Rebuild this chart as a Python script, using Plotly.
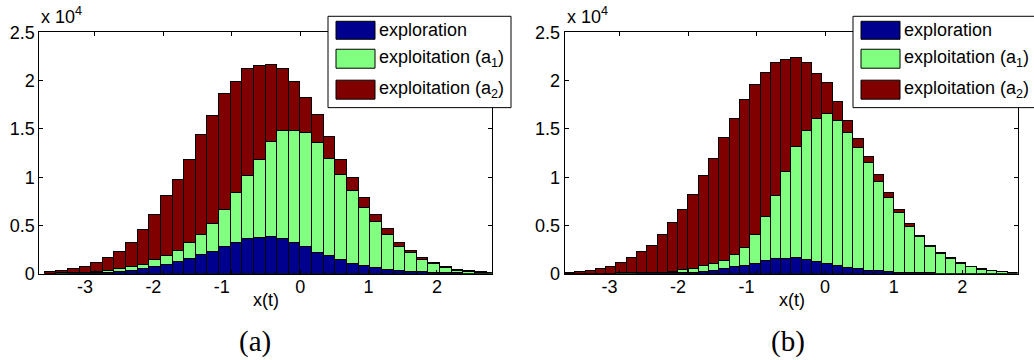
import plotly.graph_objects as go

W, H = 1034, 360

# ---- histogram bin centres of x(t) ----
x_a = [-3.646, -3.476, -3.306, -3.136, -2.966, -2.796, -2.626, -2.456, -2.286, -2.116,
       -1.946, -1.776, -1.606, -1.436, -1.266, -1.096, -0.926, -0.756, -0.586, -0.416,
       -0.246, -0.076, 0.094, 0.264, 0.434, 0.604, 0.774, 0.944, 1.114, 1.284,
       1.454, 1.624, 1.794, 1.964, 2.134, 2.304, 2.474, 2.644, 2.814]
x_b = [-3.725, -3.575, -3.425, -3.274, -3.124, -2.974, -2.824, -2.674, -2.523, -2.373,
       -2.223, -2.073, -1.923, -1.772, -1.622, -1.472, -1.322, -1.172, -1.021, -0.871,
       -0.721, -0.571, -0.421, -0.270, -0.120, 0.030, 0.180, 0.330, 0.481, 0.631,
       0.781, 0.931, 1.081, 1.232, 1.382, 1.532, 1.682, 1.832, 1.983, 2.133,
       2.283, 2.433, 2.583, 2.734]

# ---- counts per bin, panel (a) ----
exploration_a = [0, 10, 20, 40, 60, 100, 180, 320, 500, 680,
                 920, 1150, 1500, 1900, 2250, 2800, 3200, 3550, 3700, 3800,
                 3600, 3200, 2750, 2150, 1800, 1400, 1000, 780, 600, 400,
                 280, 190, 120, 70, 40, 20, 10, 10, 0]
exploit_a1_a = [0, 10, 20, 40, 90, 160, 250, 330, 420, 690,
                880, 1150, 1650, 2100, 2850, 3800, 5100, 6550, 8100, 9800,
                11200, 11600, 11750, 11350, 10100, 8800, 7500, 6020, 4770, 3600,
                2500, 1910, 1250, 880, 560, 280, 180, 100, 60]
exploit_a2_a = [150, 240, 390, 590, 950, 1310, 1820, 2550, 3630, 4730,
                6200, 7400, 8650, 10300, 11200, 12000, 11500, 11100, 9700, 8000,
                6400, 5000, 3700, 2900, 2250, 1600, 1350, 1050, 690, 580,
                420, 200, 230, 130, 100, 60, 30, 20, 10]

# ---- counts per bin, panel (b) ----
exploration_b = [0, 0, 0, 0, 0, 10, 10, 20, 30, 40,
                 50, 70, 100, 160, 280, 480, 650, 830, 1030, 1270,
                 1500, 1550, 1580, 1430, 1200, 1030, 800, 590, 430, 310,
                 240, 170, 90, 60, 30, 20, 10, 0, 0, 0,
                 0, 0, 0, 0]
exploit_a1_b = [0, 0, 0, 10, 10, 10, 20, 10, 10, 20,
                90, 270, 380, 600, 720, 860, 1310, 1820, 2970, 4580,
                6550, 8950, 11520, 13370, 14800, 15470, 15000, 14010, 12570, 11090,
                9260, 7630, 6210, 4790, 3720, 2760, 2030, 1500, 980, 690,
                410, 260, 150, 60]
exploit_a2_b = [80, 170, 320, 510, 710, 1080, 1570, 2170, 2860, 3890,
                5060, 6260, 7670, 9340, 10900, 12660, 14040, 15350, 15550, 14950,
                13750, 11600, 9200, 7000, 4700, 3200, 2000, 1200, 900, 700,
                700, 500, 300, 320, 150, 100, 80, 80, 70, 30,
                40, 20, 20, 10]

series_names = ["exploration", "exploitation (a<sub>1</sub>)", "exploitation (a<sub>2</sub>)"]
x_ticks = [-3, -2, -1, 0, 1, 2]
x_tick_text = ["-3", "-2", "-1", "0", "1", "2"]
y_ticks = [0, 5000, 10000, 15000, 20000, 25000]
y_tick_text = ["0", "0.5", "1", "1.5", "2", "2.5"]
panel_labels = ["(a)", "(b)"]

COLORS = ["#00008F", "#80FF80", "#800000"]
SANS = "Liberation Sans, Arial, sans-serif"
SERIF = "Liberation Serif, Times New Roman, serif"
NBSP = "\u00a0"

# vertical placement helper: pixel rows measured from the top of the page
Y_OFF, Y_SCALE = 9.7, 0.946


def px_x(p):
    return p / W


def px_y(p):
    return 1 - ((p - Y_OFF) / Y_SCALE) / H


fig = go.Figure()

panels = [
    (x_a, [exploration_a, exploit_a1_a, exploit_a2_a], 0.170, "x", "y"),
    (x_b, [exploration_b, exploit_a1_b, exploit_a2_b], 0.1502, "x2", "y2"),
]
for xs, stack, bw, xa, ya in panels:
    for vals, col in zip(stack, COLORS):
        fig.add_trace(go.Bar(
            x=xs, y=vals, width=bw, xaxis=xa, yaxis=ya,
            marker=dict(color=col, line=dict(color="#000000", width=1)),
            showlegend=False, hoverinfo="skip",
        ))

# negative labels sit slightly left of their ticks
tick_text_x = [t + NBSP * 4 if t.startswith("-") else t for t in x_tick_text]

axis_common = dict(
    showline=True, linecolor="black", linewidth=1, mirror="ticks",
    ticks="inside", ticklen=4, tickwidth=1, tickcolor="black",
    showgrid=False, zeroline=False,
    tickfont=dict(family=SANS, size=18, color="black"),
)
x_common = dict(tickvals=x_ticks, ticktext=tick_text_x, ticklabelstandoff=-3, **axis_common)
y_common = dict(range=[0, 25000], tickvals=y_ticks, ticktext=y_tick_text, **axis_common)

y_dom = [px_y(274), px_y(32)]
fig.update_layout(
    width=W, height=H, autosize=False,
    margin=dict(l=0, r=0, t=0, b=0),
    paper_bgcolor="white", plot_bgcolor="white",
    barmode="stack", bargap=0, showlegend=False,
    xaxis=dict(domain=[px_x(39.3), px_x(491.7)], range=[-3.814, 2.80], anchor="y", **x_common),
    yaxis=dict(domain=y_dom, anchor="x", **y_common),
    xaxis2=dict(domain=[px_x(564.7), px_x(1017.7)], range=[-3.80, 2.81], anchor="y2", **x_common),
    yaxis2=dict(domain=y_dom, anchor="x2", **y_common),
)

shapes = []
annotations = []

for ax_left, xlabel_cx, leg_left in [(39.3, 265.7, 328), (564.7, 791.7, 853)]:
    # scale multiplier above the y axis
    annotations.append(dict(
        x=px_x(ax_left), y=px_y(29), xref="paper", yref="paper",
        xanchor="left", yanchor="bottom", showarrow=False,
        text="x 10<sup>4</sup>", font=dict(family=SANS, size=18, color="black"),
    ))
    # x axis title
    annotations.append(dict(
        x=px_x(xlabel_cx), y=px_y(300), xref="paper", yref="paper",
        xanchor="center", yanchor="middle", showarrow=False,
        text="x(t)", font=dict(family=SANS, size=18, color="black"),
    ))
    # legend box
    leg_w, leg_top, leg_bot = 183, 16, 107.5
    shapes.append(dict(
        type="rect", xref="paper", yref="paper", layer="above",
        x0=px_x(leg_left), x1=px_x(leg_left + leg_w), y0=px_y(leg_bot), y1=px_y(leg_top),
        fillcolor="white", line=dict(color="black", width=1),
    ))
    rows = [(21, 39), (49, 68), (80, 99)]
    for (r0, r1), name, col in zip(rows, series_names, COLORS):
        shapes.append(dict(
            type="rect", xref="paper", yref="paper", layer="above",
            x0=px_x(leg_left + 8), x1=px_x(leg_left + 47), y0=px_y(r1), y1=px_y(r0),
            fillcolor=col, line=dict(color="black", width=1),
        ))
        annotations.append(dict(
            x=px_x(leg_left + 49), y=px_y((r0 + r1) / 2 - 0.5), xref="paper", yref="paper",
            xanchor="left", yanchor="middle", showarrow=False,
            text=name, font=dict(family=SANS, size=18, color="black"),
        ))

for lbl, cx in zip(panel_labels, [255, 788]):
    annotations.append(dict(
        x=px_x(cx), y=px_y(341.7), xref="paper", yref="paper",
        xanchor="center", yanchor="middle", showarrow=False,
        text=lbl, font=dict(family=SERIF, size=29, color="black"),
    ))

fig.update_layout(shapes=shapes, annotations=annotations)

# keep the page exactly the size of the figure
page_css = ("document.body.style.margin='0';"
            "document.body.style.padding='0';"
            "document.body.style.overflow='hidden';")
fig.write_html("out.html", post_script=page_css)
